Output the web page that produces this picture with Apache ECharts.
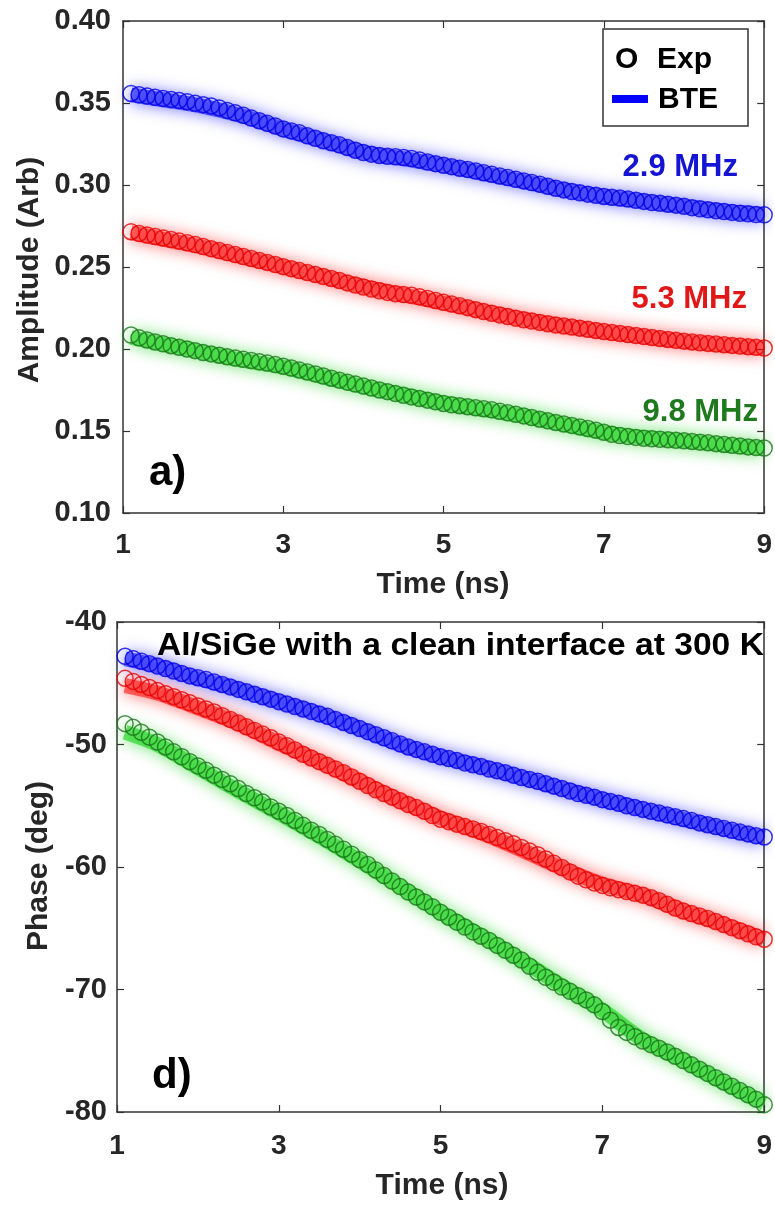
<!DOCTYPE html>
<html>
<head>
<meta charset="utf-8">
<script src="https://cdn.jsdelivr.net/npm/echarts@6/dist/echarts.min.js"></script>
<style>
html,body{margin:0;padding:0;background:#fff;}
#chart{width:775px;height:1205px;}
</style>
</head>
<body>
<div id="chart"></div>
<script>
// ---- data ----
var time = [1.1,1.2,1.3,1.4,1.5,1.6,1.7,1.8,1.9,2.0,
            2.1,2.2,2.3,2.4,2.5,2.6,2.7,2.8,2.9,3.0,
            3.1,3.2,3.3,3.4,3.5,3.6,3.7,3.8,3.9,4.0,
            4.1,4.2,4.3,4.4,4.5,4.6,4.7,4.8,4.9,5.0,
            5.1,5.2,5.3,5.4,5.5,5.6,5.7,5.8,5.9,6.0,
            6.1,6.2,6.3,6.4,6.5,6.6,6.7,6.8,6.9,7.0,
            7.1,7.2,7.3,7.4,7.5,7.6,7.7,7.8,7.9,8.0,
            8.1,8.2,8.3,8.4,8.5,8.6,8.7,8.8,8.9,9.0];

// Amplitude (Arb), experiment
var ampExp29 = [.3558,.3550,.3542,.3535,.3528,.3522,.3516,.3508,.3498,.3490,
                .3482,.3470,.3455,.3440,.3425,.3408,.3392,.3376,.3360,.3342,
                .3330,.3318,.3300,.3285,.3270,.3258,.3245,.3228,.3212,.3198,
                .3188,.3180,.3175,.3172,.3168,.3162,.3152,.3140,.3130,.3120,
                .3112,.3102,.3095,.3085,.3075,.3065,.3055,.3045,.3035,.3025,
                .3015,.3005,.2992,.2980,.2970,.2960,.2952,.2944,.2937,.2930,
                .2925,.2920,.2914,.2907,.2900,.2893,.2888,.2883,.2877,.2870,
                .2862,.2855,.2849,.2843,.2838,.2833,.2828,.2824,.2820,.2818];
var ampExp53 = [.2715,.2705,.2695,.2686,.2677,.2668,.2658,.2648,.2637,.2625,
                .2612,.2600,.2588,.2576,.2564,.2552,.2540,.2528,.2515,.2502,
                .2490,.2478,.2466,.2454,.2442,.2430,.2418,.2403,.2390,.2378,
                .2366,.2355,.2345,.2337,.2332,.2327,.2318,.2308,.2296,.2285,
                .2274,.2263,.2252,.2240,.2228,.2218,.2208,.2198,.2188,.2178,
                .2170,.2162,.2154,.2146,.2140,.2134,.2127,.2120,.2113,.2106,
                .2100,.2094,.2088,.2082,.2076,.2070,.2064,.2058,.2053,.2048,
                .2043,.2038,.2034,.2030,.2026,.2022,.2018,.2014,.2010,.2006];
var ampExp98 = [.2085,.2068,.2055,.2043,.2032,.2020,.2010,.2000,.1990,.1978,
                .1970,.1962,.1953,.1945,.1937,.1930,.1922,.1914,.1905,.1895,
                .1884,.1872,.1860,.1848,.1835,.1822,.1810,.1798,.1786,.1774,
                .1762,.1750,.1740,.1728,.1718,.1708,.1698,.1688,.1678,.1668,
                .1660,.1654,.1648,.1642,.1636,.1629,.1620,.1611,.1602,.1592,
                .1582,.1572,.1562,.1552,.1543,.1534,.1525,.1515,.1505,.1492,
                .1480,.1472,.1466,.1461,.1456,.1452,.1449,.1446,.1443,.1440,
                .1436,.1432,.1428,.1423,.1418,.1413,.1408,.1403,.1399,.1396];

// Phase (deg), experiment
var phaExp29 = [-42.8,-43.0,-43.2,-43.4,-43.6,-43.8,-44.0,-44.2,-44.4,-44.55,
                -44.7,-44.9,-45.1,-45.3,-45.5,-45.7,-45.9,-46.1,-46.3,-46.5,
                -46.7,-46.9,-47.1,-47.3,-47.5,-47.7,-47.95,-48.2,-48.45,-48.7,
                -48.95,-49.2,-49.45,-49.7,-49.95,-50.2,-50.4,-50.6,-50.8,-51.0,
                -51.15,-51.3,-51.5,-51.65,-51.8,-52.0,-52.15,-52.3,-52.5,-52.7,
                -52.85,-53.0,-53.2,-53.4,-53.6,-53.8,-54.0,-54.15,-54.3,-54.5,
                -54.65,-54.8,-55.0,-55.15,-55.3,-55.45,-55.6,-55.75,-55.9,-56.05,
                -56.2,-56.4,-56.55,-56.7,-56.85,-57.0,-57.15,-57.3,-57.45,-57.55];
var phaExp53 = [-44.6,-44.85,-45.1,-45.35,-45.6,-45.85,-46.1,-46.35,-46.6,-46.85,
                -47.1,-47.35,-47.65,-47.95,-48.25,-48.55,-48.85,-49.15,-49.45,-49.8,
                -50.1,-50.45,-50.8,-51.1,-51.4,-51.7,-52.0,-52.3,-52.65,-53.0,
                -53.35,-53.7,-54.0,-54.3,-54.6,-54.9,-55.15,-55.45,-55.8,-56.1,
                -56.3,-56.5,-56.7,-56.9,-57.1,-57.35,-57.6,-57.85,-58.1,-58.4,
                -58.7,-59.0,-59.35,-59.7,-60.05,-60.4,-60.75,-61.05,-61.3,-61.5,
                -61.7,-61.85,-62.0,-62.15,-62.3,-62.5,-62.75,-63.05,-63.35,-63.6,
                -63.8,-64.0,-64.2,-64.45,-64.7,-64.95,-65.2,-65.45,-65.7,-65.9];
var phaExp98 = [-48.3,-48.6,-49.0,-49.4,-49.8,-50.2,-50.6,-51.0,-51.4,-51.75,
                -52.1,-52.5,-52.85,-53.2,-53.6,-54.0,-54.35,-54.7,-55.1,-55.45,
                -55.8,-56.2,-56.6,-57.0,-57.35,-57.75,-58.15,-58.55,-58.95,-59.4,
                -59.8,-60.25,-60.7,-61.15,-61.6,-62.05,-62.45,-62.85,-63.25,-63.7,
                -64.1,-64.5,-64.9,-65.3,-65.65,-66.0,-66.4,-66.8,-67.2,-67.6,
                -68.1,-68.6,-69.0,-69.4,-69.8,-70.15,-70.5,-70.85,-71.25,-71.8,
                -72.5,-73.1,-73.5,-73.85,-74.2,-74.5,-74.8,-75.1,-75.45,-75.8,
                -76.15,-76.5,-76.85,-77.2,-77.55,-77.9,-78.25,-78.6,-78.95,-79.4];

// BTE model curves
var bteTime = [1.1,1.5,2,2.5,3,3.5,4,4.5,5,5.5,6,6.5,7,7.5,8,8.5,9];
var ampBte29 = [.355,.352,.348,.342,.334,.327,.320,.316,.312,.307,.302,.297,.293,.290,.287,.284,.282];
var ampBte53 = [.271,.267,.262,.256,.250,.244,.238,.233,.228,.223,.218,.214,.2105,.2075,.2045,.2025,.2005];
var ampBte98 = [.207,.203,.198,.193,.189,.183,.177,.172,.167,.163,.159,.154,.149,.146,.144,.1415,.1395];
var phaBte29 = [-43.0,-43.6,-44.6,-45.5,-46.5,-47.5,-48.7,-50.0,-51.0,-51.8,-52.7,-53.6,-54.5,-55.3,-56.1,-56.9,-57.6];
var phaBte53 = [-45.2,-45.8,-47.0,-48.3,-49.9,-51.4,-53.0,-54.6,-56.0,-57.2,-58.6,-60.1,-61.4,-62.3,-63.6,-64.7,-65.9];
var phaBte98 = [-49.0,-50.0,-51.9,-53.8,-55.6,-57.5,-59.5,-61.6,-63.7,-65.6,-67.6,-69.7,-71.7,-74.1,-75.8,-77.6,-79.3];

// ticks
var xTicks = [1,3,5,7,9];
var ampTicks = [0.10,0.15,0.20,0.25,0.30,0.35,0.40];
var phaTicks = [-80,-70,-60,-50,-40];

var freqLabels = ['2.9 MHz','5.3 MHz','9.8 MHz'];
var circleColors = ['#0000e6','#e60000','#1a761a'];
var glowColors = ['#0000ff','#ff0000','#00d000'];

function pairs(xs, ys){ return xs.map(function(x,i){ return [x, ys[i]]; }); }

var tickColor = '#262626';
var axisColor = '#333';

function xAx(grid, pos, showLabel){
  return {type:'value', gridIndex:grid, position:pos, min:xTicks[0], max:xTicks[xTicks.length-1], interval:2,
    axisLine:{show:true, onZero:false, lineStyle:{color:axisColor, width:1.5}},
    axisTick:{show:true, inside:true, length:7, lineStyle:{color:axisColor, width:1.2}},
    axisLabel:{show:showLabel, margin: grid===0?18:20, color:tickColor, fontFamily:'Liberation Sans, Arial', fontWeight:'bold', fontSize:28},
    splitLine:{show:false}};
}
function yAx(grid, pos, showLabel, ticks, fmt){
  return {type:'value', gridIndex:grid, position:pos, min:ticks[0], max:ticks[ticks.length-1], interval:ticks[1]-ticks[0],
    axisLine:{show:true, onZero:false, lineStyle:{color:axisColor, width:1.5}},
    axisTick:{show:true, inside:true, length:7, lineStyle:{color:axisColor, width:1.2}},
    axisLabel:{show:showLabel, margin: grid===0?12:10, color:tickColor, fontFamily:'Liberation Sans, Arial', fontWeight:'bold', fontSize:29, formatter:fmt},
    splitLine:{show:false}};
}

var series = [];
var ampBte = [ampBte29, ampBte53, ampBte98], ampExp = [ampExp29, ampExp53, ampExp98];
var phaBte = [phaBte29, phaBte53, phaBte98], phaExp = [phaExp29, phaExp53, phaExp98];
for (var k=0;k<3;k++){
  [[0, ampBte[k], ampExp[k]],[1, phaBte[k], phaExp[k]]].forEach(function(p){
    var gi = p[0];
    series.push({type:'line', name:'BTE '+freqLabels[k], xAxisIndex:gi*2, yAxisIndex:gi*2, data:pairs(bteTime, p[1]),
      smooth:0.3, showSymbol:false, symbol:'none', z:1, silent:true,
      lineStyle:{color:glowColors[k], width:15, opacity:0.55, shadowBlur:16, shadowColor:glowColors[k], cap:'butt'}});
    series.push({type:'scatter', name:'Exp '+freqLabels[k], xAxisIndex:gi*2, yAxisIndex:gi*2, data:pairs(time, p[2]),
      symbol:'circle', symbolSize:16, z:3, silent:true,
      itemStyle:{color:'rgba(0,0,0,0)', borderColor:circleColors[k], borderWidth:1.5}});
  });
}

var bold = 'bold {s}px "Liberation Sans", Arial, sans-serif';
function f(s){ return bold.replace('{s}', s); }
function txt(text, x, y, size, color, align, rot, sx){
  return {type:'text', x:x, y:y, rotation:rot||0, scaleX:sx||1, z:100,
    style:{text:text, font:f(size), fill:color, textAlign:align||'left', align:align||'left', textVerticalAlign:'middle', verticalAlign:'middle'}};
}

var graphic = [
  txt('Time (ns)', 443, 585, 30, tickColor, 'center'),
  txt('Time (ns)', 442, 1186, 30, tickColor, 'center'),
  txt('Amplitude (Arb)', 30, 270, 30, tickColor, 'center', Math.PI/2),
  txt('Phase (deg)', 39, 866, 30, tickColor, 'center', Math.PI/2),
  {type:'rect', shape:{x:603, y:29, width:145, height:97}, z:99, style:{fill:'#fff', stroke:axisColor, lineWidth:1.5}},
  txt('O', 615, 60, 30, '#000', 'left'),
  txt('Exp', 657, 60, 30, '#000', 'left'),
  {type:'rect', shape:{x:612, y:95, width:36, height:8}, z:100, style:{fill:'#0000ff'}},
  txt('BTE', 658, 100, 30, '#000', 'left'),
  txt(freqLabels[0], 738, 167, 31, '#1414d2', 'right'),
  txt(freqLabels[1], 747, 299, 31, '#e01818', 'right'),
  txt(freqLabels[2], 758, 412, 31, '#1f7a1f', 'right'),
  txt('a)', 149, 473, 42, '#000', 'left'),
  txt('d)', 152, 1076, 42, '#000', 'left'),
  txt('Al/SiGe with a clean interface at 300 K', 157, 646, 32, '#000', 'left', 0, 1.05)
];

var chart = echarts.init(document.getElementById('chart'), null, {renderer:'canvas'});
chart.setOption({
  animation:false,
  backgroundColor:'#fff',
  grid:[{left:123, top:21, width:642, height:492},{left:117, top:622, width:650, height:490}],
  xAxis:[xAx(0,'bottom',true), xAx(0,'top',false), xAx(1,'bottom',true), xAx(1,'top',false)],
  yAxis:[yAx(0,'left',true,ampTicks,function(v){return v.toFixed(2);}), yAx(0,'right',false,ampTicks),
         yAx(1,'left',true,phaTicks,function(v){return String(v);}), yAx(1,'right',false,phaTicks)],
  series:series,
  graphic:graphic
});
</script>
</body>
</html>
